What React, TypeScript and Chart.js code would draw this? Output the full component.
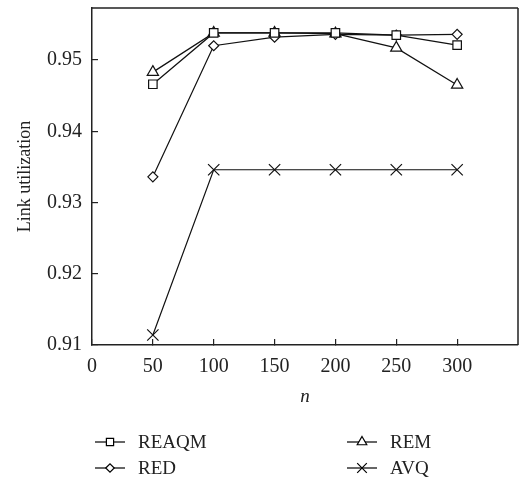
import React, { useEffect, useRef } from "react";
import { Chart, registerables } from "chart.js";
import { drawPoint } from "chart.js/helpers";

Chart.register(...registerables);

const nValues = [50, 100, 150, 200, 250, 300];
const reaqm = [0.9466, 0.9538, 0.9538, 0.9538, 0.9535, 0.9521];
const red = [0.9336, 0.952, 0.9532, 0.9536, 0.9535, 0.9536];
const rem = [0.9483, 0.9538, 0.9538, 0.9537, 0.9517, 0.9465];
const avq = [0.9114, 0.9346, 0.9346, 0.9346, 0.9346, 0.9346];

const xTicks = [0, 50, 100, 150, 200, 250, 300];
const yTicks = [0.91, 0.92, 0.93, 0.94, 0.95];

const FONT = "'Liberation Serif', 'Times New Roman', serif";

const seriesDefs = [
  { label: "REAQM", data: reaqm, style: "rect", r: 6 },
  { label: "RED", data: red, style: "rectRot", r: 5 },
  { label: "REM", data: rem, style: "triangle", r: 6.5 },
  { label: "AVQ", data: avq, style: "crossRot", r: 8 },
];

const legendOrder = [
  ["REAQM", 0, 0],
  ["RED", 0, 1],
  ["REM", 1, 0],
  ["AVQ", 1, 1],
];

const framePlugin = {
  id: "frame",
  afterDraw(chart: any) {
    const { ctx, chartArea } = chart;
    const { left, right, top, bottom } = chartArea;
    ctx.save();
    ctx.strokeStyle = "#222";
    ctx.lineWidth = 1.5;
    ctx.beginPath();
    ctx.moveTo(left, top);
    ctx.lineTo(right, top);
    ctx.moveTo(right, top);
    ctx.lineTo(right, bottom);
    ctx.stroke();
    ctx.restore();
  },
};

const legendPlugin = {
  id: "customLegend",
  afterDraw(chart: any) {
    const { ctx, chartArea } = chart;
    ctx.save();
    ctx.font = "19px " + FONT;
    ctx.fillStyle = "#222";
    ctx.textBaseline = "middle";
    ctx.textAlign = "left";
    legendOrder.forEach(([label, col, row]: any) => {
      const idx = seriesDefs.findIndex((s) => s.label === label);
      const def = seriesDefs[idx];
      const x0 = chartArea.left + 3 + col * 252;
      const y = chartArea.bottom + 97 + row * 26;
      ctx.strokeStyle = "#000";
      ctx.lineWidth = 1.2;
      ctx.beginPath();
      ctx.moveTo(x0, y);
      ctx.lineTo(x0 + 30, y);
      ctx.stroke();
      ctx.fillStyle = "#fff";
      drawPoint(ctx, { pointStyle: def.style, radius: def.r * 0.85, rotation: 0, borderWidth: 1.2 } as any, x0 + 15, y);
      ctx.fillStyle = "#222";
      ctx.fillText(label, x0 + 43, y + 1);
    });
    ctx.restore();
  },
};

function zeroPad(scale: any) {
  scale.paddingTop = 0;
  scale.paddingBottom = 0;
  scale.paddingLeft = 0;
  scale.paddingRight = 0;
}

export default function App() {
  const ref = useRef<HTMLCanvasElement | null>(null);
  useEffect(() => {
    document.body.style.margin = "0";
    const canvas = ref.current!;
    const chart = new Chart(canvas, {
      type: "line",
      data: {
        datasets: seriesDefs.map((s) => ({
          label: s.label,
          data: nValues.map((n, i) => ({ x: n, y: s.data[i] })),
          borderColor: "#111",
          borderWidth: 1.2,
          pointStyle: s.style as any,
          pointRadius: s.r,
          pointBorderColor: "#111",
          pointBackgroundColor: "#fff",
          pointBorderWidth: 1.2,
          fill: false,
          tension: 0,
        })),
      },
      options: {
        responsive: false,
        animation: false,
        layout: { autoPadding: false, padding: { left: 14, top: 8, right: 1, bottom: 70 } },
        plugins: { legend: { display: false }, tooltip: { enabled: false } },
        scales: {
          x: {
            type: "linear",
            min: 0,
            max: 350,
            afterBuildTicks: (scale: any) => {
              scale.ticks = xTicks.map((v) => ({ value: v }));
            },
            afterFit: (scale: any) => {
              scale.height = 63;
              zeroPad(scale);
            },
            grid: { drawOnChartArea: false, tickLength: -6, color: "#222", lineWidth: 1.2 },
            border: { color: "#222", width: 1.5 },
            ticks: {
              autoSkip: false,
              maxRotation: 0,
              padding: 16,
              color: "#222",
              font: { family: FONT, size: 20 },
            },
            title: {
              display: true,
              text: "n",
              padding: 0,
              color: "#222",
              font: { family: FONT, size: 19, style: "italic" },
            },
          },
          y: {
            type: "linear",
            min: 0.91,
            max: 0.9573,
            afterBuildTicks: (scale: any) => {
              scale.ticks = yTicks.map((v) => ({ value: v }));
            },
            afterFit: (scale: any) => {
              scale.width = 78;
              zeroPad(scale);
            },
            grid: { drawOnChartArea: false, tickLength: -6, color: "#222", lineWidth: 1.2 },
            border: { color: "#222", width: 1.5 },
            ticks: {
              autoSkip: false,
              padding: 16,
              color: "#222",
              font: { family: FONT, size: 20 },
              callback: (v: any) => Number(v).toFixed(2),
            },
            title: {
              display: true,
              text: "Link utilization",
              padding: 0,
              color: "#222",
              font: { family: FONT, size: 18 },
            },
          },
        },
      },
      plugins: [framePlugin, legendPlugin],
    });
    return () => chart.destroy();
  }, []);
  return (
    <canvas
      ref={ref}
      width={519}
      height={478}
      style={{ display: "block", position: "fixed", left: 0, top: 0 }}
    />
  );
}
